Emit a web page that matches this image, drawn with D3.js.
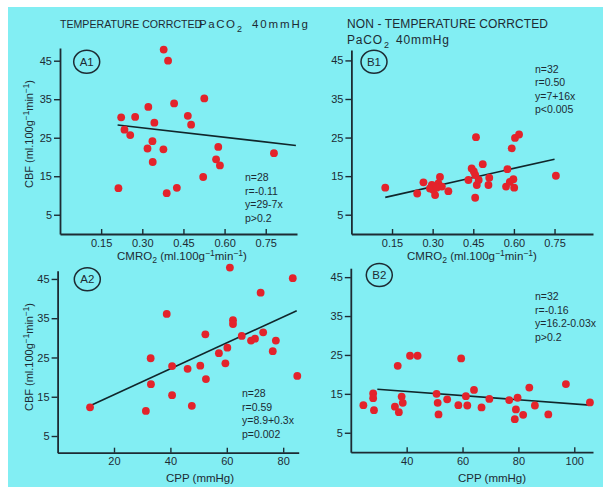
<!DOCTYPE html>
<html>
<head>
<meta charset="utf-8">
<script src="https://cdn.jsdelivr.net/npm/d3@7"></script>
<style>
body { margin:0; background:#fff; }
svg { display:block; }
text { font-family: Arial, "Liberation Sans", sans-serif; fill:#1d2b33; }
</style>
</head>
<body>
<script>
var W = 603, H = 487;

// data
var a1Cmro = [0.223,0.274,0.322,0.416,0.526,0.235,0.256,0.344,0.466,0.478,0.337,0.319,0.377,0.338,0.577,0.569,0.583,0.522,0.213,0.389,0.426,0.378,0.394,0.780];
var a1Cbf  = [30.3,30.4,33.0,33.9,35.2,27.1,25.7,28.9,30.7,28.4,24.1,22.2,22.0,18.7,22.6,19.4,17.8,14.8,11.9,10.6,12.0,47.9,45.0,21.0];

var b1Cmro = [0.125,0.243,0.266,0.297,0.303,0.309,0.327,0.321,0.334,0.358,0.290,0.444,0.432,0.457,0.463,0.485,0.457,0.460,0.509,0.506,0.576,0.571,0.598,0.601,0.592,0.604,0.619,0.755,0.452,0.315,0.585,0.470];
var b1Cbf  = [12.0,10.5,13.4,12.7,11.4,10.1,14.8,13.1,12.3,11.1,11.8,17.0,14.0,15.3,12.7,18.1,9.4,25.1,14.6,12.7,16.8,12.3,14.2,12.0,22.2,24.9,25.8,15.1,16.2,12.0,13.5,14.0];

var a2Cpp = [11.5,31.3,33.0,33.1,38.7,40.6,40.6,46.1,47.6,50.6,52.4,52.6,57.2,59.5,60.2,61.1,62.2,62.2,65.3,68.6,70.0,72.0,72.9,76.3,77.4,83.4,85.0];
var a2Cbf = [12.3,11.4,24.8,18.2,36.1,22.8,15.4,22.1,12.7,22.9,30.9,19.5,26.1,23.5,27.5,47.9,34.5,33.5,30.5,29.3,29.8,41.5,31.4,26.6,29.3,45.2,20.3];

var b2Cpp = [24.5,28.0,28.0,28.3,35.8,36.8,37.2,38.2,38.6,41.2,43.9,50.7,51.1,51.4,54.5,58.5,59.5,61.2,61.7,64.1,66.8,69.6,76.7,78.7,79.1,79.7,81.7,83.9,85.9,90.7,97.0,105.6];
var b2Cbf = [12.1,15.1,13.9,10.8,11.7,22.2,10.3,14.3,12.7,24.8,24.8,15.0,12.7,9.7,13.6,12.1,24.1,14.4,12.0,16.0,11.5,13.7,13.4,8.5,11.0,14.0,9.6,16.6,12.0,9.7,17.5,12.8];

// regression line end points
var a1Fit = [[0.21,28.3],[0.86,23.0]];
var b1Fit = [[0.125,9.5],[0.75,19.4]];
var a2Fit = [[11.5,12.7],[84.8,36.9]];
var b2Fit = [[29.5,16.2],[105.6,12.1]];

var a1Stats = ["n=28","r=-0.11","y=29-7x","p>0.2"];
var b1Stats = ["n=32","r=0.50","y=7+16x","p<0.005"];
var a2Stats = ["n=28","r=0.59","y=8.9+0.3x","p=0.002"];
var b2Stats = ["n=32","r=-0.16","y=16.2-0.03x","p>0.2"];

var cbfTicks = [5,15,25,35,45];
var cmroTicks = [0.15,0.30,0.45,0.60,0.75];
var cppTicksA = [20,40,60,80];
var cppTicksB = [40,60,80,100];

var ink = "#1d2b33", dotCol = "#e3232b";

var svg = d3.select("body").append("svg").attr("width", W).attr("height", H);
svg.append("rect").attr("x",8).attr("y",7).attr("width",W-8).attr("height",H-7).attr("fill","#82eef3");

// text with sub/superscripts: parts = [[str, shift]], shift 1 = sub, -1 = sup
function richText(g, x, y, parts, size, anchor, rot) {
  var t = g.append("text").attr("x", x).attr("y", y)
    .attr("font-size", size).attr("text-anchor", anchor || "start");
  if (rot) t.attr("transform", "rotate(" + rot + "," + x + "," + y + ")");
  var prev = 0;
  parts.forEach(function(p) {
    var off = p[1] * (p[1] > 0 ? 3 : 4);
    var ts = t.append("tspan").text(p[0]).attr("dy", off - prev);
    if (p[1] != 0) ts.attr("font-size", size * 0.75);
    prev = off;
  });
  return t;
}

// plain text, optionally stretched to a given width
function titleText(str, x, y, size, len) {
  var t = svg.append("text").attr("x", x).attr("y", y).attr("font-size", size).text(str);
  if (len) t.attr("textLength", len).attr("lengthAdjust", "spacing");
  return t;
}

var cmroLab = [["CMRO",0],["2",1],[" (ml.100g",0],["\u22121",-1],["min",0],["\u22121",-1],[")",0]];
var cbfLab = [["CBF (ml.100g",0],["\u22121",-1],["min",0],["\u22121",-1],[")",0]];

var panels = [
  {tag:"A1", xs:a1Cmro, ys:a1Cbf, fit:a1Fit, stats:a1Stats, xTicks:cmroTicks, fmt:d3.format(".2f"),
   xDom:[0,0.864], xR:[60,297], yDom:[0,48.3], yR:[234,48], tagPos:[86.7,61.7], statPos:[245,181],
   xLab:cmroLab, xLabPos:[182,260], yLabPos:[33,134]},
  {tag:"B1", xs:b1Cmro, ys:b1Cbf, fit:b1Fit, stats:b1Stats, xTicks:cmroTicks, fmt:d3.format(".2f"),
   xDom:[0,0.892], xR:[351.4,593], yDom:[0,47.7], yR:[234,50], tagPos:[374,61.7], statPos:[535,72.5],
   xLab:cmroLab, xLabPos:[472,260]},
  {tag:"A2", xs:a2Cpp, ys:a2Cbf, fit:a2Fit, stats:a2Stats, xTicks:cppTicksA, fmt:d3.format("d"),
   xDom:[0,85.5], xR:[57.6,298.7], yDom:[0.75,47.1], yR:[452.7,270.7], tagPos:[87.3,279.3], statPos:[242,397],
   xLab:[["CPP (mmHg)",0]], xLabPos:[200,482], yLabPos:[33,357]},
  {tag:"B2", xs:b2Cpp, ys:b2Cbf, fit:b2Fit, stats:b2Stats, xTicks:cppTicksB, fmt:d3.format("d"),
   xDom:[20,106.7], xR:[350.8,593], yDom:[0,47.3], yR:[452.2,268.2], tagPos:[379.3,275], statPos:[535,300],
   xLab:[["CPP (mmHg)",0]], xLabPos:[492,482]}
];

panels.forEach(function(p) {
  var g = svg.append("g");
  var x = d3.scaleLinear().domain(p.xDom).range(p.xR);
  var y = d3.scaleLinear().domain(p.yDom).range(p.yR);

  var xa = g.append("g").attr("transform", "translate(0," + p.yR[0] + ")")
    .call(d3.axisBottom(x).tickValues(p.xTicks).tickFormat(p.fmt).tickSizeInner(-5).tickSizeOuter(0).tickPadding(5));
  var ya = g.append("g").attr("transform", "translate(" + p.xR[0] + ",0)")
    .call(d3.axisLeft(y).tickValues(cbfTicks).tickSizeInner(6).tickSizeOuter(0).tickPadding(2));
  [xa, ya].forEach(function(a) {
    a.select(".domain").attr("stroke", ink).attr("stroke-width", 1.8);
    a.selectAll(".tick line").attr("stroke", ink).attr("stroke-width", 1.4);
    a.selectAll(".tick text").attr("font-size", 11).attr("fill", ink)
      .attr("font-family", "Arial, 'Liberation Sans', sans-serif");
  });
  xa.selectAll(".tick text").attr("y", 5);

  g.append("line")
    .attr("x1", x(p.fit[0][0])).attr("y1", y(p.fit[0][1]))
    .attr("x2", x(p.fit[1][0])).attr("y2", y(p.fit[1][1]))
    .attr("stroke", "#10262b").attr("stroke-width", 1.6);

  g.selectAll("circle.dot").data(p.xs).enter().append("circle")
    .attr("class", "dot")
    .attr("cx", function(d) { return x(d); })
    .attr("cy", function(d, i) { return y(p.ys[i]); })
    .attr("r", 3.9).attr("fill", dotCol);

  g.append("ellipse").attr("cx", p.tagPos[0]).attr("cy", p.tagPos[1])
    .attr("rx", 13).attr("ry", 11.5).attr("fill", "none").attr("stroke", ink).attr("stroke-width", 1.5);
  g.append("text").attr("x", p.tagPos[0]).attr("y", p.tagPos[1] + 4)
    .attr("text-anchor", "middle").attr("font-size", 11.5).text(p.tag);

  p.stats.forEach(function(s, i) {
    g.append("text").attr("x", p.statPos[0]).attr("y", p.statPos[1] + i * 13.6)
      .attr("font-size", 10.5).text(s);
  });

  richText(g, p.xLabPos[0], p.xLabPos[1], p.xLab, 11.5, "middle");
  if (p.yLabPos) richText(g, p.yLabPos[0], p.yLabPos[1], cbfLab, 11, "middle", -90);
});

// titles
titleText("TEMPERATURE CORRCTED", 60, 28, 10.6);
titleText("PaCO", 199, 28, 11.5, 36);
titleText("2", 237, 32, 9);
titleText("40mmHg", 252, 28, 11.5, 56);
titleText("NON - TEMPERATURE CORRCTED", 347, 28, 12, 201);
titleText("PaCO", 347, 44, 12, 35);
titleText("2", 384, 48, 9);
titleText("40mmHg", 396, 44, 12, 53);
</script>
</body>
</html>
